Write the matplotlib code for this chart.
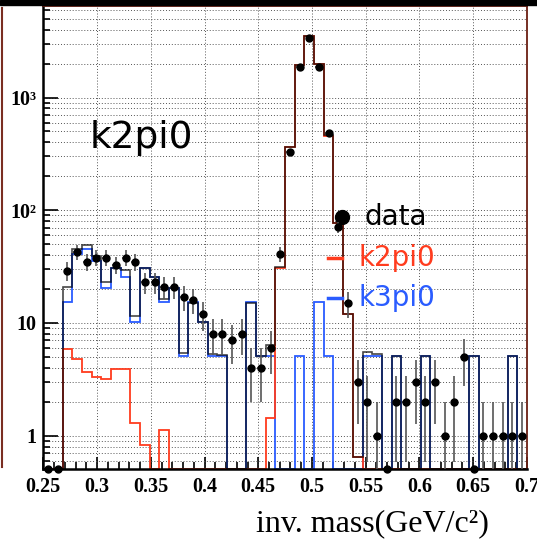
import numpy as np
import matplotlib.pyplot as plt
from matplotlib.ticker import FixedLocator, FixedFormatter, NullFormatter
from matplotlib.lines import Line2D

# histogram binning: 50 bins between 0.25 and 0.7 GeV/c^2
x_lo, x_hi, n_bins = 0.25, 0.7, 50

data = [0, 0, 29, 43, 35, 38, 38, 33, 38, 35,
        23, 23, 21, 21, 17, 16, 12, 8, 8, 7,
        8, 4, 4, 6, 41, 326, 1870, 3400, 1870, 487,
        71, 15, 3, 2, 1, 0, 2, 2, 3, 2,
        3, 1, 2, 5, 0, 1, 1, 1, 1, 1]

k2pi0 = [0, 0, 5.9, 4.8, 3.7, 3.3, 3.2, 3.9, 3.9, 1.3,
         0.82, 0, 1.12, 0, 0, 0, 0, 0, 0, 0,
         0, 0, 0, 1.44, 31, 361, 1930, 3515, 1985, 460,
         77, 12.1, 0.65, 0.44, 0.15, 0, 0, 0, 0, 0,
         0, 0, 0, 0, 0, 0, 0, 0, 0.1, 0]

k3pi0 = [0, 0, 15.2, 40.6, 45.7, 35.6, 20.3, 30.5, 25.4, 10.2,
         30.5, 25.4, 15.2, 20.3, 5.1, 15.2, 10.2, 5.1, 5.1, 0,
         0, 15.2, 5.1, 5.1, 0, 0, 5.1, 0, 15.2, 5.1,
         0, 0, 0, 5.1, 5.1, 0, 5.1, 0, 0, 5.1,
         0, 0, 0, 0, 5.1, 0, 0, 0, 5.1, 0]

total = [0, 0, 20.8, 44.9, 48.7, 38.9, 23.1, 30.7, 29.3, 11.5,
         30.8, 25.5, 16.2, 20.6, 5.36, 15.1, 10.2, 5.3, 5.2, 0,
         0, 15.1, 5.1, 6.4, 31.1, 361, 1936, 3515, 2000, 465,
         77.3, 12.1, 0.65, 5.54, 5.25, 0, 5.1, 0, 0, 5.1,
         0, 0, 0, 0, 5.1, 0, 0, 0, 5.1, 0]

x_ticks = [0.25, 0.3, 0.35, 0.4, 0.45, 0.5, 0.55, 0.6, 0.65, 0.7]
x_tick_labels = ['0.25', '0.3', '0.35', '0.4', '0.45', '0.5', '0.55', '0.6', '0.65', '0.7']
y_ticks = [1, 10, 100, 1000]
y_tick_labels = ['1', '10', '10\u00b2', '10\u00b3']


def main():
    edges = np.linspace(x_lo, x_hi, n_bins + 1)
    centers = 0.5 * (edges[:-1] + edges[1:])
    y_lo, y_hi = 0.506, 6530

    fig = plt.figure(figsize=(5.37, 5.39), dpi=100)
    ax = fig.add_axes([0.0806, 0.1299, 0.9007, 0.8595])
    ax.set_yscale('log')
    ax.set_xlim(x_lo, x_hi)
    ax.set_ylim(y_lo, y_hi)

    # grid like ROOT: dotted, y on all decades/subdecades, x on majors
    ax.xaxis.set_major_locator(FixedLocator(x_ticks))
    ax.xaxis.set_major_formatter(FixedFormatter(x_tick_labels))
    ax.xaxis.set_minor_locator(FixedLocator(np.arange(0.25, 0.7001, 0.01)))
    ax.yaxis.set_major_locator(FixedLocator(y_ticks))
    ax.yaxis.set_major_formatter(FixedFormatter(y_tick_labels))
    minors = [m * 10.0 ** d for d in range(-1, 4) for m in range(2, 10)]
    ax.yaxis.set_minor_locator(FixedLocator(minors))
    ax.yaxis.set_minor_formatter(NullFormatter())
    ax.grid(True, which='major', axis='x', ls=(0, (1, 2)), color='#555555', lw=0.7)
    ax.grid(True, which='both', axis='y', ls=(0, (1, 2)), color='#555555', lw=0.7)
    ax.set_axisbelow(True)

    floor = lambda v: np.clip(np.asarray(v, float), y_lo, None)
    ax.stairs(floor(k3pi0), edges, baseline=None, color='#2a5cff', lw=1.3)
    ax.stairs(floor(k2pi0), edges, baseline=None, color='#ff3c1e', lw=1.3)
    ax.stairs(floor(total), edges, baseline=None, color='black', alpha=0.72, lw=1.2)

    d = np.asarray(data, float)
    m = d > 0
    err_lo = d[m] - np.maximum(d[m] - np.sqrt(d[m]), y_lo * 0.9)
    err_hi = np.sqrt(d[m])
    ax.errorbar(centers[m], d[m], yerr=[err_lo, err_hi], xerr=0.0035, fmt='o',
                color='black', ms=5, ecolor='#555555', elinewidth=1.2, capsize=0, zorder=5)
    ax.plot(centers[~m], np.full((~m).sum(), y_lo), 'o', color='black', ms=5,
            clip_on=False, zorder=6)

    # labels and legend
    ax.text(0.0966, 0.7155, 'k2pi0', transform=ax.transAxes, fontsize=27,
            family='DejaVu Sans', va='center', ha='left')
    ax.plot([0.6175], [0.544], 'o', color='black', ms=10, transform=ax.transAxes)
    ax.text(0.664, 0.544, 'data', transform=ax.transAxes, fontsize=20,
            family='DejaVu Sans', va='center', ha='left')
    ax.plot([0.589, 0.618], [0.4554, 0.4554], color='#ff3c1e', lw=2.5, transform=ax.transAxes)
    ax.text(0.651, 0.4554, 'k2pi0', transform=ax.transAxes, fontsize=20, color='#ff3c1e',
            family='DejaVu Sans', va='center', ha='left')
    ax.plot([0.589, 0.618], [0.369, 0.369], color='#2a5cff', lw=2.5, transform=ax.transAxes)
    ax.text(0.651, 0.369, 'k3pi0', transform=ax.transAxes, fontsize=20, color='#2a5cff',
            family='DejaVu Sans', va='center', ha='left')

    for lab in ax.get_xticklabels() + ax.get_yticklabels():
        lab.set_family('Liberation Serif')
        lab.set_weight('bold')
        lab.set_fontsize(14.5)
    ax.tick_params(axis='x', which='major', direction='in', length=9, width=1.2, pad=6)
    ax.tick_params(axis='x', which='minor', direction='in', length=5, width=1.2)
    ax.tick_params(axis='y', which='major', direction='in', length=11, width=1.2, pad=5)
    ax.tick_params(axis='y', which='minor', direction='in', length=5, width=1.2)

    for s in ['left', 'bottom']:
        ax.spines[s].set_linewidth(1.8)
        ax.spines[s].set_color('black')
    for s in ['top', 'right']:
        ax.spines[s].set_linewidth(1.3)
        ax.spines[s].set_color('#6b1f12')

    fig.text(0.91, 0.014, 'inv. mass(GeV/c\u00b2)', family='Liberation Serif',
             fontsize=23, ha='right', va='baseline')

    # bits of the neighbouring pad
    fig.patches.append(plt.Rectangle((0, 1 - 5 / 539), 1, 5 / 539, transform=fig.transFigure,
                                     color='black'))
    fig.lines.append(Line2D([2 / 537, 2 / 537], [72 / 539, 531 / 539], transform=fig.transFigure,
                            color='#7a2e22', lw=1.5))

    fig.savefig('out.png', dpi=100)


main()
